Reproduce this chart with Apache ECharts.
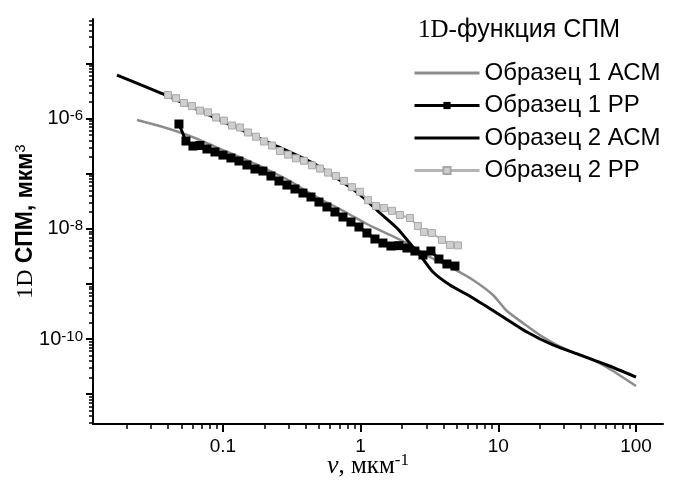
<!DOCTYPE html>
<html><head><meta charset="utf-8">
<script src="https://cdn.jsdelivr.net/npm/echarts@6/dist/echarts.min.js"></script>
<style>html,body{margin:0;padding:0;background:#fff}#c{width:680px;height:482px}</style>
</head><body><div id="c"></div>
<script>
// ---- data ----
const s1AfmX = [0.02374,0.03667,0.05757,0.1,0.1856,0.3066,0.4503,0.7955,1.111,1.633,2.280,3.186,4.451,6.541,9.14,11.55,15.09,21.09,31.49,48.64,67.97,100];
const s1AfmY = [9.43e-7,7.04e-7,4.83e-7,2.69e-7,1.379e-7,7.37e-8,4.11e-8,1.935e-8,1.222e-8,7.72e-9,5.08e-9,3.08e-9,2.03e-9,1.177e-9,6.29e-10,3.22e-10,1.952e-10,1.087e-10,6.32e-11,4.16e-11,2.63e-11,1.403e-11];

const s1PpX = [0.04791,0.05386,0.06054,0.06808,0.07652,0.08748,0.1,0.1143,0.1307,0.1494,0.1708,0.1952,0.2232,0.2551,0.2916,0.3334,0.3811,0.4357,0.4980,0.5693,0.6508,0.7439,0.8504,0.9721,1.111,1.270,1.452,1.660,1.897,2.169,2.479,2.834,3.239,3.703,4.233,4.839];
const s1PpY = [7.98e-7,3.92e-7,3.18e-7,3.25e-7,2.81e-7,2.48e-7,2.18e-7,1.93e-7,1.70e-7,1.44e-7,1.217e-7,1.119e-7,9.08e-8,7.37e-8,6.23e-8,5.28e-8,4.46e-8,3.78e-8,3.06e-8,2.49e-8,2.02e-8,1.637e-8,1.328e-8,1.078e-8,8.39e-9,6.53e-9,5.52e-9,4.87e-9,4.95e-9,4.48e-9,3.95e-9,3.35e-9,3.95e-9,2.83e-9,2.30e-9,2.11e-9];

const s2AfmX = [0.01699,0.03667,0.1,0.2194,0.4503,0.7955,1.039,1.381,1.835,2.398,2.696,3.350,4.451,6.541,10.27,16.13,24.92,39.14,61.47,100];
const s2AfmY = [6.18e-6,2.80e-6,8.86e-7,3.61e-7,1.564e-7,6.23e-8,3.78e-8,1.935e-8,1.034e-8,4.675e-9,3.346e-9,1.644e-9,9.55e-10,5.55e-10,2.727e-10,1.339e-10,7.78e-11,5.13e-11,3.37e-11,2.04e-11];

const s2PpX = [0.03987,0.04557,0.05209,0.05954,0.06808,0.07782,0.08897,0.1017,0.1163,0.1329,0.1519,0.1737,0.1985,0.2269,0.2594,0.2965,0.3390,0.3875,0.4429,0.5063,0.5788,0.6616,0.7563,0.8646,0.9883,1.130,1.291,1.476,1.688,1.929,2.280,2.607,2.882,3.295,3.894,4.451,5.088];
const s2PpY = [2.68e-6,2.35e-6,1.92e-6,1.69e-6,1.40e-6,1.30e-6,1.05e-6,9.2e-7,7.5e-7,6.9e-7,5.6e-7,4.7e-7,3.85e-7,3.25e-7,2.58e-7,2.22e-7,1.90e-7,1.72e-7,1.42e-7,1.24e-7,1.05e-7,9.1e-8,7.4e-8,5.7e-8,4.7e-8,3.3e-8,2.6e-8,2.38e-8,2.12e-8,1.78e-8,1.57e-8,1.12e-8,8.75e-9,8.4e-9,6.3e-9,5.1e-9,5.0e-9];

const seriesNames = ['Образец 1 АСМ','Образец 1 РР','Образец 2 АСМ','Образец 2 РР'];
const xTickValues = [0.1, 1, 10, 100];
const xTickLabels = ['0.1', '1', '10', '100'];
const yTickValues = [1e-6, 1e-8, 1e-10];
const yTickExps = ['-6', '-8', '-10'];
const xRange = [0.01138, 157];
const yRange = [2.864e-12, 6.43e-5];

// ---- build ----
const L = Math.log10;
const pairs = (xs, ys) => xs.map((x, i) => [L(x), L(ys[i])]);
function logTicks(lo, hi) {
  const major = [], minor = [];
  for (let d = Math.floor(lo) - 1; d <= Math.ceil(hi); d++) {
    if (d >= lo && d <= hi) major.push(d);
    for (let k = 2; k <= 9; k++) { const v = d + L(k); if (v >= lo && v <= hi) minor.push(v); }
  }
  return { major, minor };
}
const xl = [L(xRange[0]), L(xRange[1])];
const yl = [L(yRange[0]), L(yRange[1])];
const xt = logTicks(xl[0], xl[1]);
const yt = logTicks(yl[0], yl[1]);
const SANS = 'Liberation Sans, Arial, sans-serif';
const SERIF = 'Liberation Serif, Times New Roman, serif';
const blackLine = { color: '#000', width: 2 };
const lineIcon = 'path://M0,0h65v3h-65z';

const chart = echarts.init(document.getElementById('c'), null, { renderer: 'canvas' });
chart.setOption({
  animation: false,
  backgroundColor: '#fff',
  grid: { left: 93, right: 17, top: 19, bottom: 58, containLabel: false, outerBoundsMode: 'none' },
  title: {
    text: '{s|1D-}{a|функция СПМ}', left: 413, top: 13,
    textStyle: { fontWeight: 'normal', rich: {
      s: { fontFamily: SERIF, fontSize: 25, fontWeight: 'normal', color: '#000' },
      a: { fontFamily: SANS, fontSize: 25, fontWeight: 'normal', color: '#000' }
    } }
  },
  legend: {
    orient: 'vertical', left: 408, top: 56, itemWidth: 65, itemHeight: 9, itemGap: 8.5,
    selectedMode: false,
    lineStyle: { width: 3 },
    data: [{ name: seriesNames[0], icon: lineIcon }, seriesNames[1], { name: seriesNames[2], icon: lineIcon }, seriesNames[3]],
    textStyle: { fontFamily: SANS, fontSize: 24, color: '#000', lineHeight: 24 }
  },
  xAxis: [{
    type: 'value', min: xl[0], max: xl[1], position: 'bottom',
    axisLine: { show: true, onZero: false, lineStyle: blackLine },
    axisTick: { show: true, inside: false, length: 8, customValues: xt.major, lineStyle: { color: '#000', width: 2 } },
    axisLabel: { customValues: xTickValues.map(L), margin: 13, fontFamily: SANS, fontSize: 19, color: '#000',
      formatter: v => { const i = xTickValues.findIndex(t => Math.abs(L(t) - v) < 1e-6); return i >= 0 ? xTickLabels[i] : ''; } },
    splitLine: { show: false },
    name: '{i|ν}{n|, мкм}{s|-1}', nameLocation: 'middle', nameGap: 28, nameMoveOverlap: false,
    nameTextStyle: { padding: [0, 20, 0, 0], rich: {
      i: { fontFamily: SERIF, fontStyle: 'italic', fontSize: 26, color: '#000', lineHeight: 28 },
      n: { fontFamily: SERIF, fontSize: 25, color: '#000', lineHeight: 28 },
      s: { fontFamily: SERIF, fontSize: 17, color: '#000', verticalAlign: 'top', lineHeight: 14 }
    } }
  }, {
    type: 'value', min: xl[0], max: xl[1], position: 'bottom',
    axisLine: { show: false, onZero: false },
    axisTick: { show: true, inside: false, length: 5, customValues: xt.minor, lineStyle: { color: '#000', width: 1.5 } },
    axisLabel: { show: false }, splitLine: { show: false }
  }],
  yAxis: [{
    type: 'value', min: yl[0], max: yl[1], position: 'left',
    axisLine: { show: true, onZero: false, lineStyle: blackLine },
    axisTick: { show: true, inside: false, length: 7, customValues: yt.major, lineStyle: { color: '#000', width: 2 } },
    axisLabel: { customValues: yTickValues.map(L), margin: 10, fontFamily: SANS, color: '#000',
      formatter: v => { const i = yTickValues.findIndex(t => Math.abs(L(t) - v) < 1e-6); return i >= 0 ? '{b|10}{s|' + yTickExps[i] + '}' : ''; },
      rich: {
        b: { fontFamily: SANS, fontSize: 20, color: '#000', lineHeight: 20 },
        s: { fontFamily: SANS, fontSize: 15, color: '#000', verticalAlign: 'top', lineHeight: 13 }
      } },
    splitLine: { show: false },
    name: '{s|1D }{b|СПМ, мкм}{p|3}', nameLocation: 'middle', nameGap: 54, nameRotate: 90, nameMoveOverlap: false,
    nameTextStyle: { rich: {
      s: { fontFamily: SERIF, fontSize: 24, color: '#000', lineHeight: 26 },
      b: { fontFamily: SANS, fontWeight: 'bold', fontSize: 23, color: '#000', lineHeight: 26 },
      p: { fontFamily: SANS, fontSize: 15, color: '#000', verticalAlign: 'top', lineHeight: 14 }
    } }
  }, {
    type: 'value', min: yl[0], max: yl[1], position: 'left',
    axisLine: { show: false, onZero: false },
    axisTick: { show: true, inside: false, length: 4, customValues: yt.minor, lineStyle: { color: '#000', width: 1.5 } },
    axisLabel: { show: false }, splitLine: { show: false }
  }],
  series: [
    { name: seriesNames[0], type: 'line', xAxisIndex: 1, yAxisIndex: 1, data: pairs(s1AfmX, s1AfmY), symbol: 'none', showSymbol: false, smooth: 0.2,
      lineStyle: { color: '#8c8c8c', width: 2.5 }, itemStyle: { color: '#8c8c8c' }, z: 2 },
    { name: seriesNames[1], type: 'line', data: pairs(s1PpX, s1PpY), symbol: 'rect', symbolSize: 9, showSymbol: true,
      lineStyle: { color: '#000', width: 3 }, itemStyle: { color: '#000' }, z: 3 },
    { name: seriesNames[2], type: 'line', data: pairs(s2AfmX, s2AfmY), symbol: 'none', showSymbol: false, smooth: 0.2,
      lineStyle: { color: '#000', width: 3 }, itemStyle: { color: '#000' }, z: 4 },
    { name: seriesNames[3], type: 'line', data: pairs(s2PpX, s2PpY), symbol: 'rect', symbolSize: 7, showSymbol: true,
      lineStyle: { color: '#b4b4b4', width: 2 }, itemStyle: { color: '#cfcfcf', borderColor: '#a8a8a8', borderWidth: 1 }, z: 5 }
  ]
});
</script></body></html>
